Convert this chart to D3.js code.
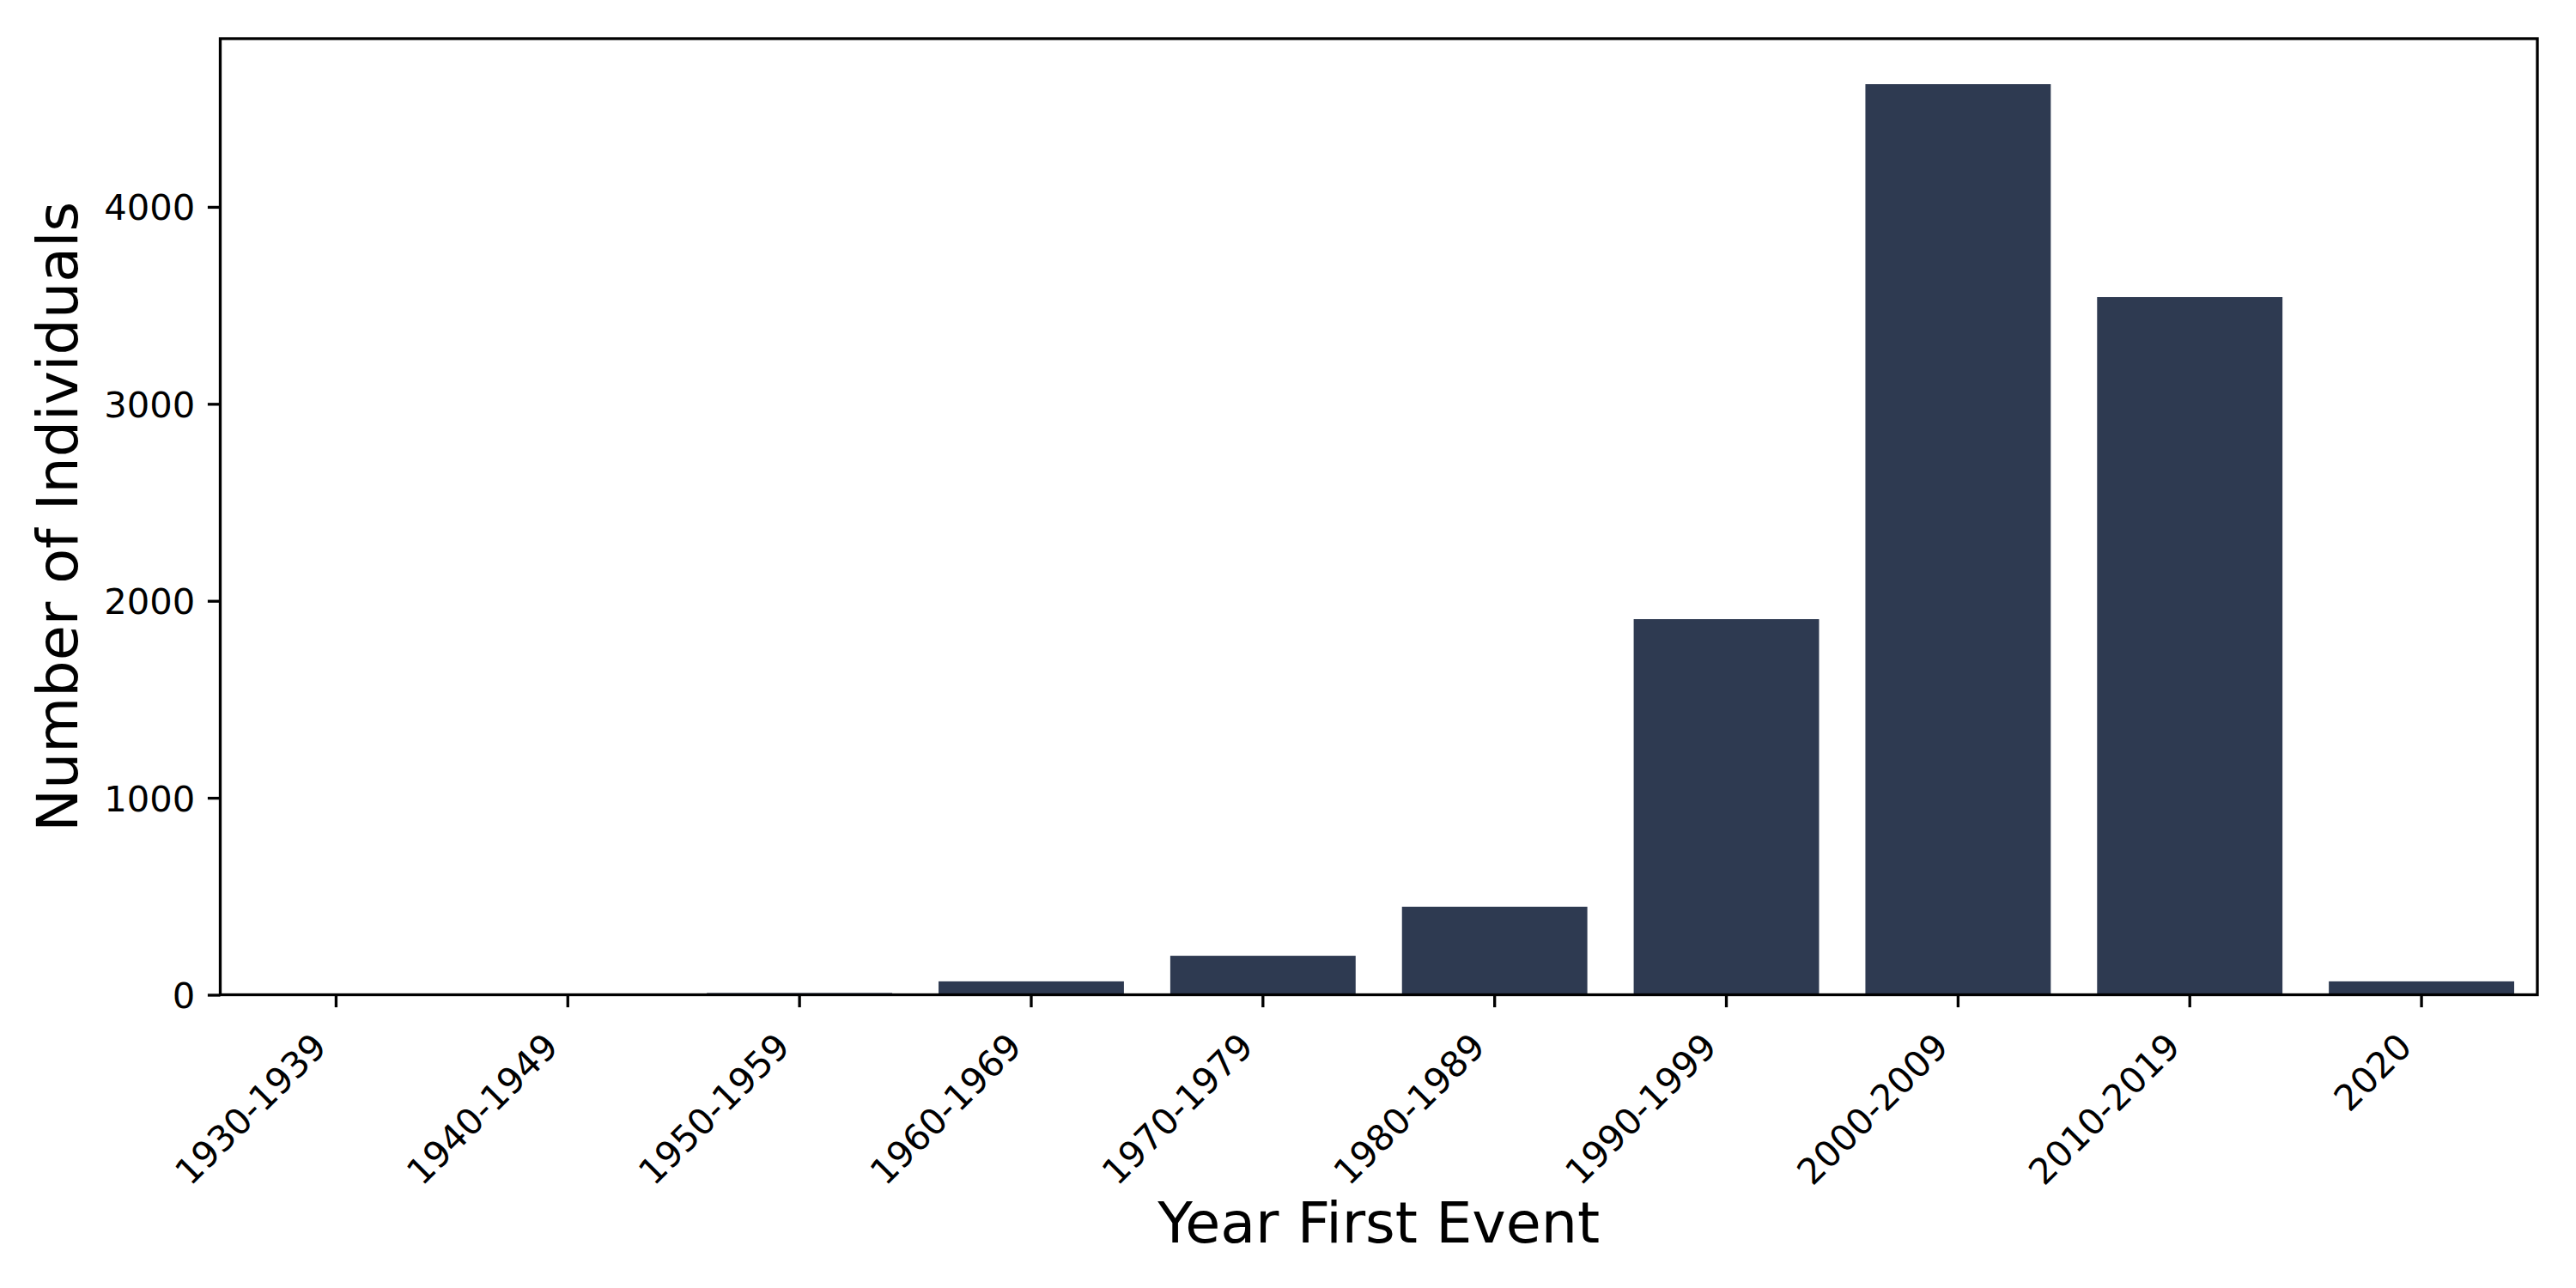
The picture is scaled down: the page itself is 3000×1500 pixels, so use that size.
<!DOCTYPE html>
<html>
<head>
<meta charset="utf-8">
<script src="https://cdn.jsdelivr.net/npm/d3@7"></script>
<style>
  html, body { margin: 0; padding: 0; background: #ffffff; }
  svg { display: block; font-family: "DejaVu Sans", sans-serif; }
</style>
</head>
<body>
<svg id="chart" width="3000" height="1500"></svg>
<script>
// Data
const categories = ["1930-1939", "1940-1949", "1950-1959", "1960-1969", "1970-1979",
                    "1980-1989", "1990-1999", "2000-2009", "2010-2019", "2020"];
const counts = [1, 2, 9, 68, 198, 447, 1907, 4623, 3542, 68];
const yTicks = [0, 1000, 2000, 3000, 4000];
const xLabel = "Year First Event";
const yLabel = "Number of Individuals";

const W = 3000, H = 1500;
const m = { left: 256.5, right: 2955, top: 45, bottom: 1158.5 };
const barColor = "#2e3a51";
const lw = 3.33;       // 0.8pt at 300dpi
const tickLen = 14.6;  // 3.5pt
const tickFont = 41.7; // 10pt
const labelFont = 66.7; // 16pt

const svg = d3.select("#chart");
svg.append("rect").attr("width", W).attr("height", H).attr("fill", "#ffffff");

const x = d3.scaleBand().domain(categories).range([m.left, m.right]).paddingInner(0.2).paddingOuter(0.1);
const y = d3.scaleLinear().domain([0, d3.max(counts) * 1.05]).range([m.bottom, m.top]);

// Bars
svg.append("g").selectAll("rect").data(categories).join("rect")
  .attr("x", d => x(d))
  .attr("y", (d, i) => y(counts[i]))
  .attr("width", x.bandwidth())
  .attr("height", (d, i) => y(0) - y(counts[i]))
  .attr("fill", barColor);

// X axis
const xAxis = svg.append("g")
  .attr("transform", `translate(0,${m.bottom})`)
  .call(d3.axisBottom(x).tickSize(tickLen).tickSizeOuter(0).tickPadding(0));
xAxis.select(".domain").remove();
xAxis.selectAll(".tick line").attr("stroke", "#000").attr("stroke-width", lw);
xAxis.selectAll(".tick text")
  .attr("font-size", tickFont)
  .attr("font-family", "DejaVu Sans")
  .attr("fill", "#000")
  .attr("text-anchor", "end")
  .attr("y", null).attr("dy", null)
  .attr("transform", "translate(-9,63) rotate(-45)");

// Y axis
const yAxis = svg.append("g")
  .attr("transform", `translate(${m.left},0)`)
  .call(d3.axisLeft(y).tickValues(yTicks).tickFormat(d3.format("d")).tickSize(tickLen).tickSizeOuter(0).tickPadding(tickLen));
yAxis.select(".domain").remove();
yAxis.selectAll(".tick line").attr("stroke", "#000").attr("stroke-width", lw);
yAxis.selectAll(".tick text")
  .attr("font-size", tickFont)
  .attr("font-family", "DejaVu Sans")
  .attr("fill", "#000")
  .attr("dy", "0.36em");

// Frame (spines)
svg.append("rect")
  .attr("x", m.left).attr("y", m.top)
  .attr("width", m.right - m.left).attr("height", m.bottom - m.top)
  .attr("fill", "none").attr("stroke", "#000").attr("stroke-width", lw);

// Axis labels
svg.append("text")
  .attr("x", (m.left + m.right) / 2).attr("y", 1447)
  .attr("text-anchor", "middle")
  .attr("font-size", labelFont).attr("fill", "#000")
  .text(xLabel);

svg.append("text")
  .attr("transform", `translate(90,${(m.top + m.bottom) / 2}) rotate(-90)`)
  .attr("text-anchor", "middle")
  .attr("font-size", labelFont).attr("fill", "#000")
  .text(yLabel);
</script>
</body>
</html>
